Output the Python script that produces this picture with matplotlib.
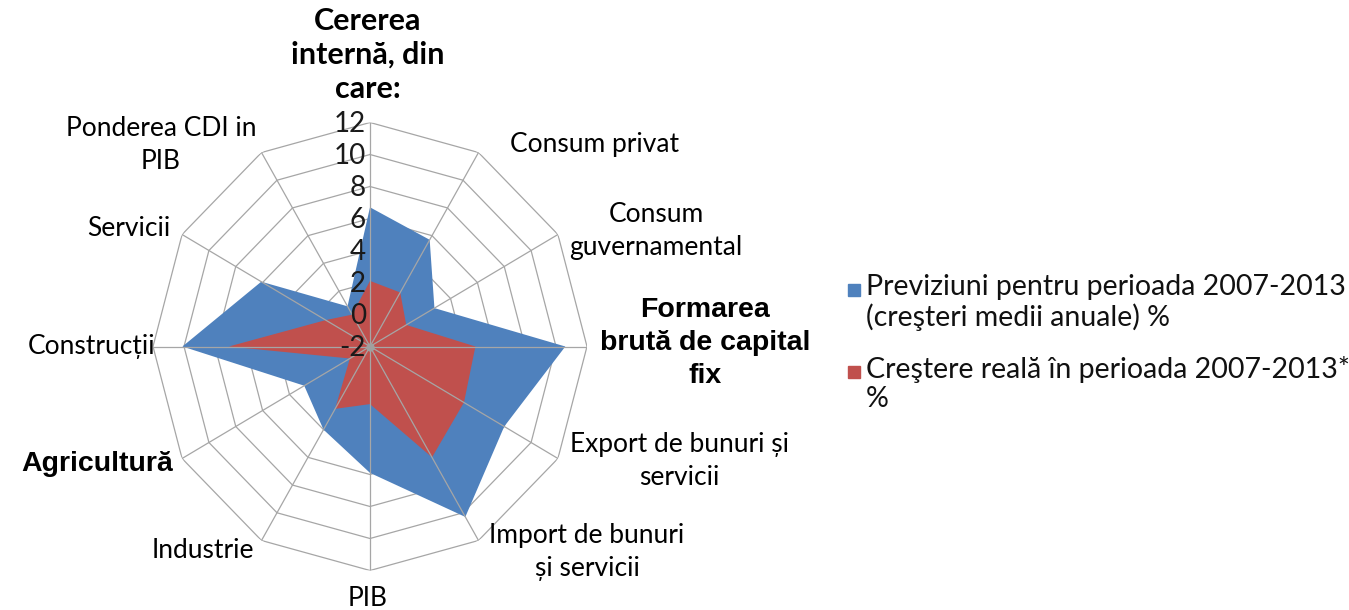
import numpy as np
import matplotlib
matplotlib.use('Agg')
import matplotlib.pyplot as plt
from matplotlib.patches import Rectangle

# categories clockwise from the top
categories = ['Cererea\ninternă, din\ncare:', 'Consum privat', 'Consum\nguvernamental',
              'Formarea\nbrută de capital\nfix', 'Export de bunuri și\nservicii',
              'Import de bunuri\nși servicii', 'PIB', 'Industrie', 'Agricultură',
              'Construcții', 'Servicii', 'Ponderea CDI in\nPIB']
previziuni = [6.7, 5.7, 2.8, 10.6, 8.0, 10.3, 5.9, 4.0, 2.9, 10.1, 6.1, 0.9]
crestere_reala = [2.1, 1.9, 0.7, 4.8, 5.0, 6.0, 1.6, 2.5, -0.5, 7.1, 1.3, 0.3]
ticks = [-2, 0, 2, 4, 6, 8, 10, 12]
legend_labels = ['Previziuni pentru perioada 2007-2013\n(creşteri medii anuale) %',
                 'Creştere reală în perioada 2007-2013*\n%']

BLUE = '#4F81BD'
RED = '#C0504D'
GRID = '#a6a6a6'
REG = ['Lato', 'DejaVu Sans']
ARIAL = ['Liberation Sans', 'DejaVu Sans']

W, H = 1349, 610
fig = plt.figure(figsize=(W / 100, H / 100), dpi=100)

cx, cy = 370, 346.5
rx, ry = 217, 224
ax = fig.add_axes([(cx - rx) / W, 1 - (cy + ry) / H, 2 * rx / W, 2 * ry / H],
                  projection='polar')
ax.set_aspect('auto')

n = len(categories)
theta = np.arange(n) * 2 * np.pi / n
theta_c = np.append(theta, theta[0])
ax.set_theta_zero_location('N')
ax.set_theta_direction(-1)
ax.set_ylim(ticks[0], ticks[-1])
ax.grid(False)
ax.spines['polar'].set_visible(False)
ax.set_xticks([])
ax.set_yticks([])

# polygon rings
for v in ticks[1:]:
    ax.plot(theta_c, [v] * (n + 1), color=GRID, lw=0.9, zorder=1)

ax.fill(theta_c, previziuni + previziuni[:1], color=BLUE, lw=0, zorder=2)
ax.fill(theta_c, crestere_reala + crestere_reala[:1], color=RED, lw=0, zorder=3)

# spokes
for t in theta:
    ax.plot([t, t], [ticks[0], ticks[-1]], color=GRID, lw=0.9, zorder=4)
ax.plot(0, ticks[0], 'o', color='#a0a0a0', ms=5, zorder=5)

for v in ticks:
    ax.annotate(str(v), xy=(0, v), xytext=(-3, -1), textcoords='offset points',
                ha='right', va='center', fontsize=20, family=REG, color='#1a1a1a',
                zorder=6)

# category labels (pixel positions of the text centres)
label_pos = [(368, 55), (595, 145), (656, 231), (705, 343), (679, 461), (587, 552),
             (368, 598), (203, 551), (97, 464), (92, 346), (129, 229), (161, 145)]
for i, (lab, (x, y)) in enumerate(zip(categories, label_pos)):
    if i == 0:
        kw = dict(family=REG, fontweight='bold', fontsize=22, linespacing=1.28)
    elif i in (3, 8):
        kw = dict(family=ARIAL, fontweight='bold', fontsize=20.5, linespacing=1.35)
    else:
        kw = dict(family=REG, fontsize=19, linespacing=1.38)
    fig.text(x / W, 1 - y / H, lab, ha='center', va='center', color='black', **kw)

# legend
for lab, col, y in zip(legend_labels, [BLUE, RED], [290, 372]):
    fig.patches.append(Rectangle((848 / W, 1 - (y + 6) / H), 12 / W, 12 / H,
                                 transform=fig.transFigure, color=col))
    fig.text(866 / W, 1 - (y - 16) / H, lab, ha='left', va='top', fontsize=20.5,
             family=REG, linespacing=1.14, color='#111111')

fig.savefig('out.png', dpi=100)
